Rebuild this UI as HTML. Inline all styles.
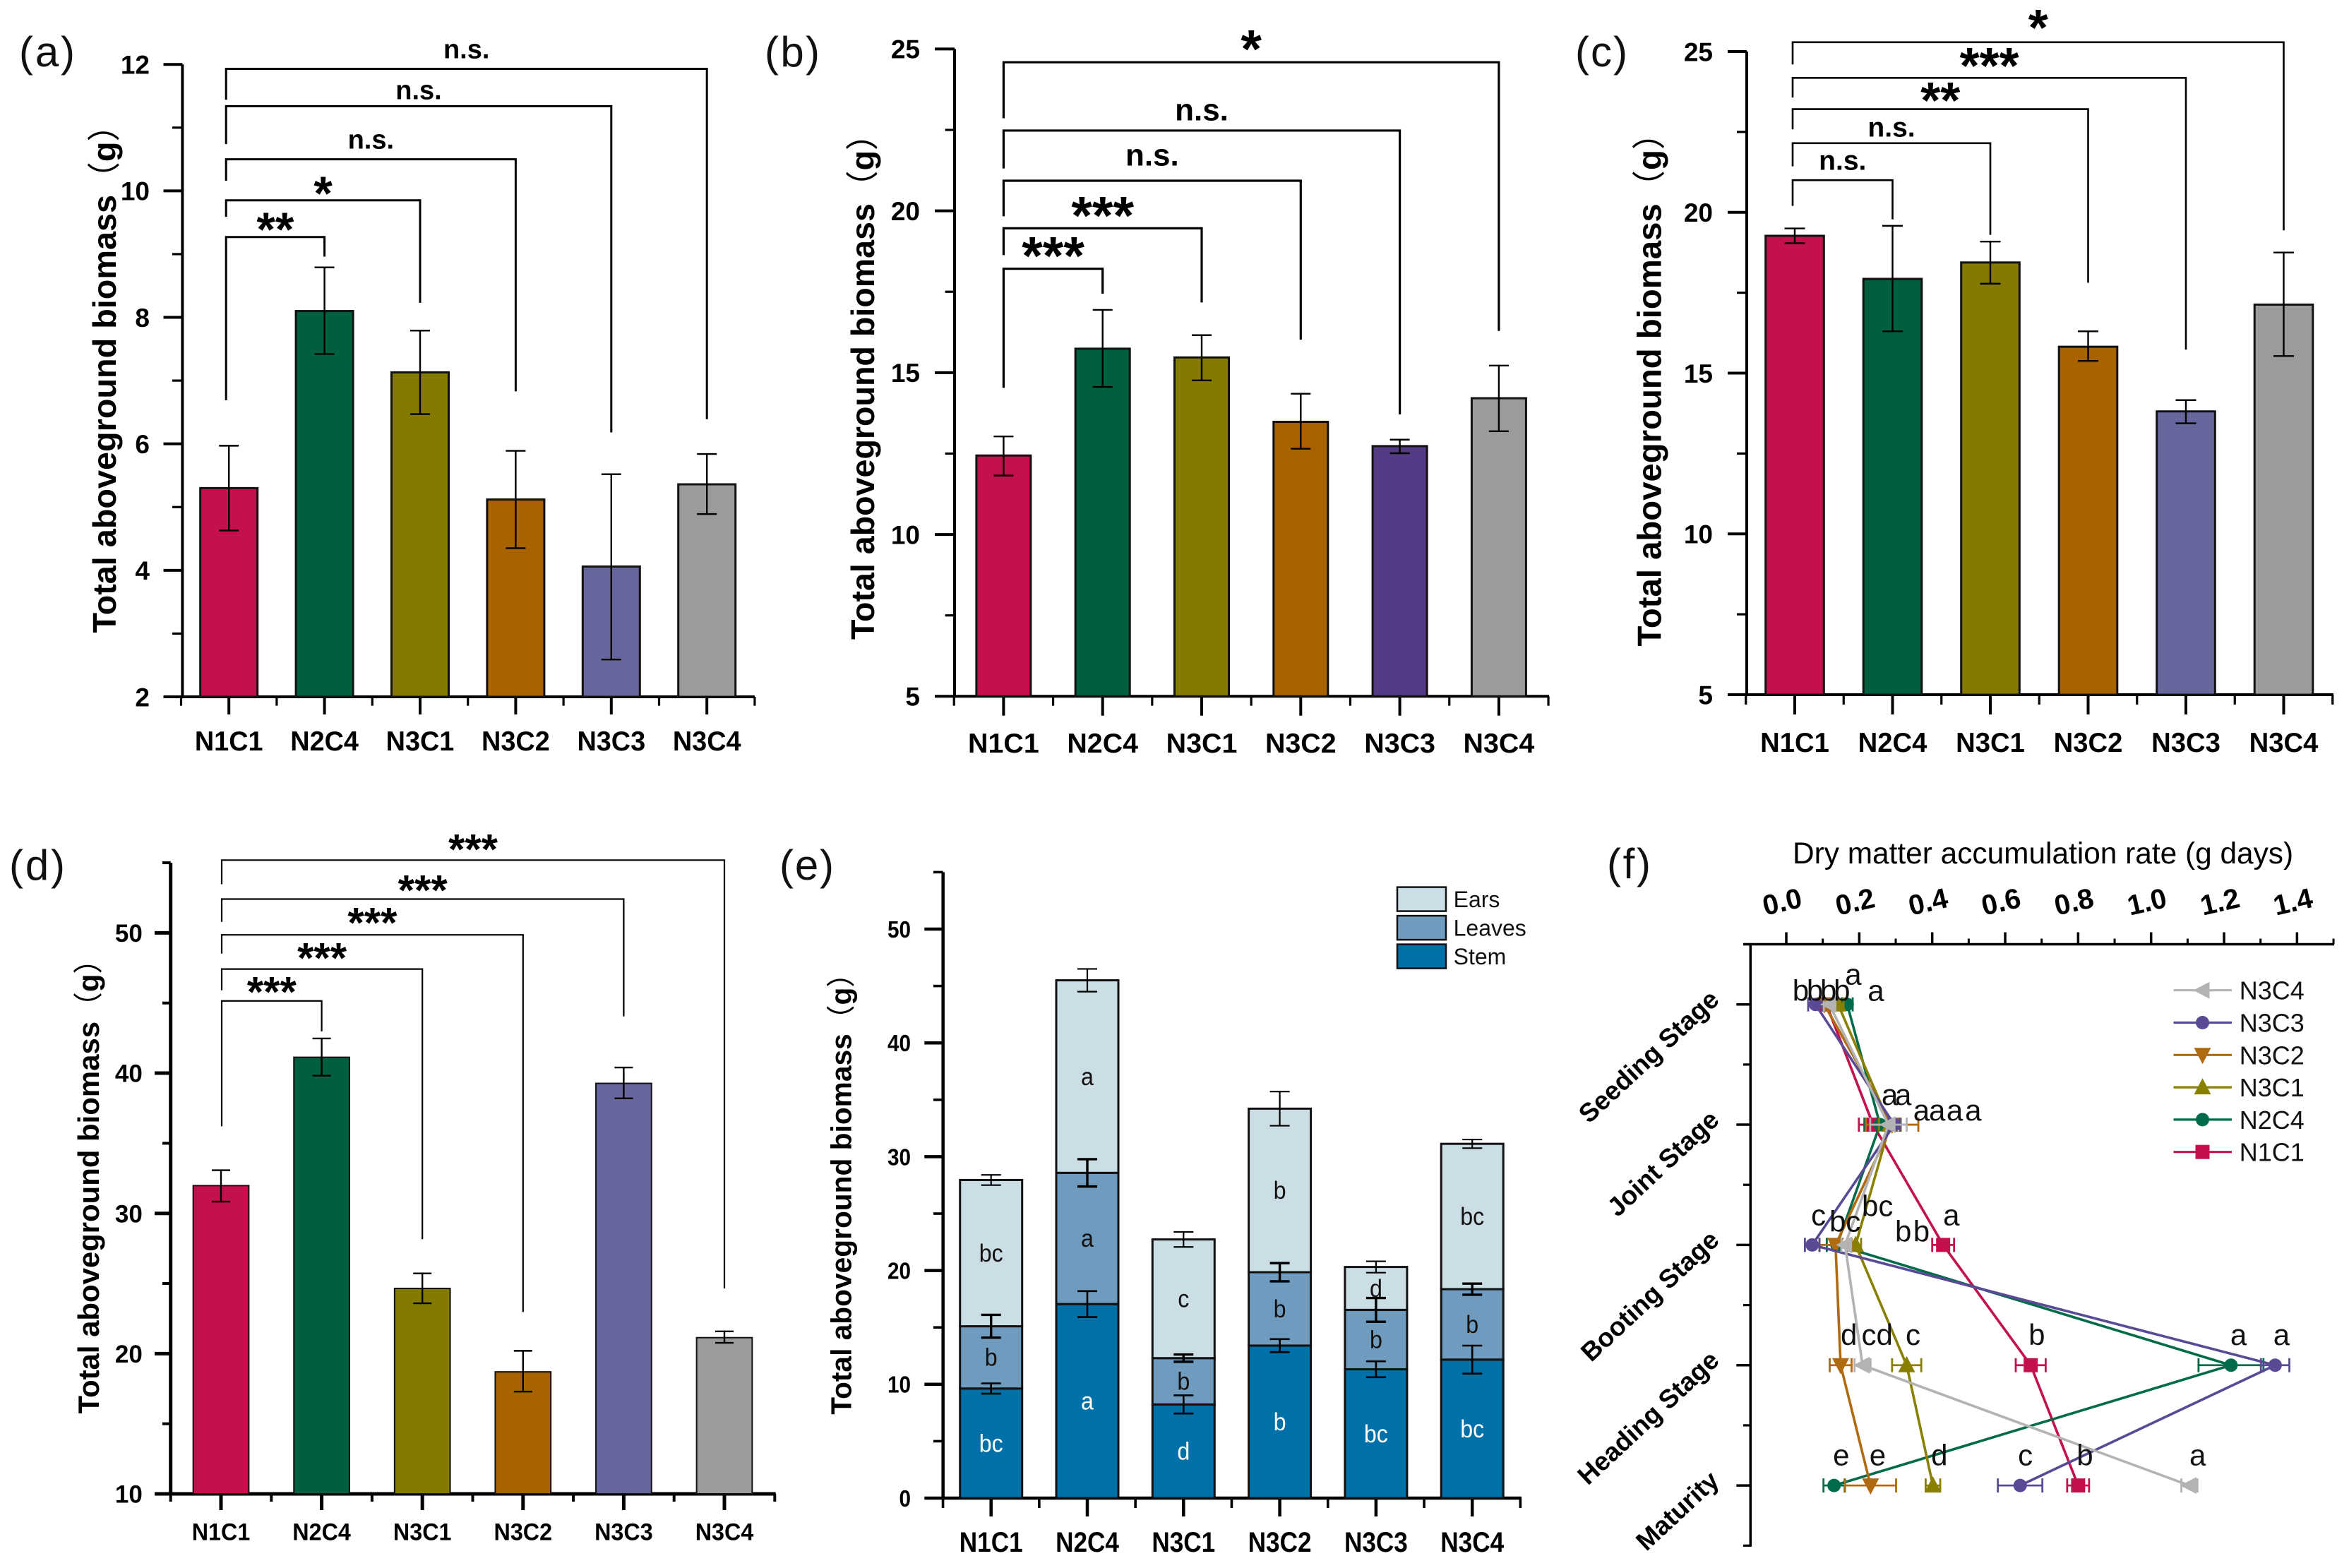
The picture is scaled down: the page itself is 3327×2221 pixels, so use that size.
<!DOCTYPE html>
<html lang="en">
<head>
<meta charset="utf-8">
<title>Total aboveground biomass and dry matter accumulation rate</title>
<style>
html,body{margin:0;padding:0;background:#fff;width:3327px;height:2221px;overflow:hidden}
svg{display:block;font-family:"Liberation Sans","Noto Sans CJK SC",sans-serif}
</style>
</head>
<body>
<svg id="fig" xmlns="http://www.w3.org/2000/svg" width="3327" height="2221" viewBox="0 0 3327 2221"></svg>
<script>
/* ---------- shared ---------- */
const categories = ['N1C1','N2C4','N3C1','N3C2','N3C3','N3C4'];

/* ---------- panel (a) ---------- */
const aValues = [5.30,8.10,7.13,5.12,4.06,5.36];
const aErrHigh = [5.97,8.79,7.79,5.89,5.52,5.84];
const aErrLow = [4.63,7.42,6.47,4.35,2.59,4.89];
const aTicks = [2,4,6,8,10,12];
const aMinorTicks = [3,5,7,9,11];
const aSigTop = [9.27,9.85,10.50,11.34,11.93];
const aSigLeftEnd = [6.69,9.59,10.16,10.74,11.44];
const aSigRightEnd = [8.96,8.23,6.83,6.18,6.39];
const aSigLabelLevel = [9.49,10.06,10.78,11.56,12.21];
const aSigText = ['**','*','n.s.','n.s.','n.s.'];

/* ---------- panel (b) ---------- */
const bValues = [12.44,15.74,15.47,13.48,12.73,14.21];
const bErrHigh = [13.03,16.94,16.16,14.35,12.93,15.22];
const bErrLow = [11.82,14.56,14.76,12.65,12.51,13.19];
const bTicks = [5,10,15,20,25];
const bMinorTicks = [7.5,12.5,17.5,22.5];
const bSigTop = [18.21,19.46,20.93,22.48,24.59];
const bSigLeftEnd = [14.53,18.63,19.83,21.31,22.86];
const bSigRightEnd = [17.44,17.17,16.02,13.71,16.29];
const bSigLabelLevel = [18.82,20.06,21.65,23.04,25.21];
const bSigText = ['***','***','n.s.','n.s.','*'];

/* ---------- panel (c) ---------- */
const cValues = [19.27,17.93,18.44,15.82,13.81,17.13];
const cErrHigh = [19.50,19.58,19.09,16.30,14.16,18.75];
const cErrLow = [19.04,16.30,17.78,15.38,13.44,15.53];
const cTicks = [5,10,15,20,25];
const cMinorTicks = [7.5,12.5,17.5,22.5];
const cSigTop = [21.0,22.15,23.21,24.18,25.29];
const cSigLeftEnd = [20.2,21.43,22.58,23.57,24.6];
const cSigRightEnd = [19.78,19.3,17.81,15.73,19.44];
const cSigLabelLevel = [21.54,22.58,23.68,24.75,25.94];
const cSigText = ['n.s.','n.s.','**','***','*'];

/* ---------- panel (d) ---------- */
const dValues = [31.98,41.13,24.65,18.70,39.27,21.14];
const dErrHigh = [33.08,42.47,25.72,20.20,40.40,21.59];
const dErrLow = [30.84,39.82,23.59,17.29,38.20,20.77];
const dTicks = [10,20,30,40,50];
const dMinorTicks = [15,25,35,45,55];
const dSigTop = [45.15,47.42,49.86,52.41,55.19];
const dSigLeftEnd = [36.21,45.91,48.52,50.79,53.47];
const dSigRightEnd = [42.98,28.16,22.97,44.05,24.65];
const dSigLabelLevel = [46.18,48.59,51.1,53.44,56.36];
const dSigText = ['***','***','***','***','***'];

/* ---------- panel (e) ---------- */
const eStem = [9.63,17.05,8.23,13.40,11.32,12.17];
const eLeaves = [5.47,11.53,4.07,6.45,5.22,6.19];
const eEars = [12.85,16.92,10.43,14.37,3.77,12.77];
const eStemErr = [0.45,1.14,0.80,0.57,0.70,1.23];
const eLeavesErr = [1.00,1.20,0.32,0.80,1.04,0.49];
const eEarsErr = [0.45,1.00,0.66,1.50,0.50,0.38];
const eStemLetters = ['bc','a','d','b','bc','bc'];
const eLeavesLetters = ['b','a','b','b','b','b'];
const eEarsLetters = ['bc','a','c','b','d','bc'];
const eTicks = [0,10,20,30,40,50];
const eMinorTicks = [5,15,25,35,45,55];
const eLegend = ['Ears','Leaves','Stem'];

/* ---------- panel (f) ---------- */
const fStages = ['Seeding Stage','Joint Stage','Booting Stage','Heading Stage','Maturity'];
const fRateTicks = [0,0.2,0.4,0.6,0.8,1.0,1.2,1.4];
const fRateMinor = [0.1,0.3,0.5,0.7,0.9,1.1,1.3,1.5];
const fN1C1 = [0.11,0.238,0.43,0.67,0.80];
const fN2C4 = [0.167,0.257,0.139,1.219,0.131];
const fN3C1 = [0.142,0.284,0.19,0.33,0.402];
const fN3C2 = [0.104,0.29,0.135,0.149,0.231];
const fN3C3 = [0.08,0.296,0.071,1.34,0.641];
const fN3C4 = [0.118,0.28,0.161,0.209,1.105];
const fN1C1Err = [0.015,0.039,0.03,0.041,0.03];
const fN2C4Err = [0.015,0.043,0.028,0.089,0.029];
const fN3C1Err = [0.015,0.03,0.015,0.04,0.02];
const fN3C2Err = [0.015,0.072,0.044,0.03,0.07];
const fN3C3Err = [0.02,0.015,0.02,0.039,0.061];
const fN3C4Err = [0.015,0.05,0.01,0.022,0.022];
const fLetterText = [
  ['b','b','b','b','a','a'],
  ['a','a','a','a','a','a'],
  ['c','b','c','bc','b','b','a'],
  ['d','cd','c','b','a','a'],
  ['e','e','d','c','b','a']
];
const fLetterRate = [
  [0.017,0.056,0.093,0.130,0.161,0.223],
  [0.261,0.298,0.348,0.391,0.439,0.490],
  [0.068,0.118,0.163,0.207,0.298,0.348,0.43],
  [0.149,0.206,0.327,0.664,1.217,1.335],
  [0.128,0.228,0.397,0.635,0.796,1.105]
];
const fLetterLift = [
  [0.03,0.03,0.03,0.03,0.165,0.03],
  [0.165,0.165,0.035,0.035,0.035,0.035],
  [0.165,0.11,0.11,0.24,0.03,0.03,0.165],
  [0.17,0.17,0.17,0.17,0.17,0.17],
  [0.167,0.167,0.167,0.167,0.167,0.167]
];

/* ---------- helpers ---------- */
const NS = 'http://www.w3.org/2000/svg';
const root = document.getElementById('fig');
function mk(tag, attrs, parent) {
  const el = document.createElementNS(NS, tag);
  for (const k in attrs) el.setAttribute(k, attrs[k]);
  (parent || root).appendChild(el);
  return el;
}
function line(p, x1, y1, x2, y2, w, color) {
  return mk('line', {x1:x1, y1:y1, x2:x2, y2:y2, stroke:color || '#000', 'stroke-width':w}, p);
}
function txt(p, x, y, str, size, o) {
  o = o || {};
  const el = mk('text', {
    transform:'translate(' + x + ',' + y + ') rotate(' + (o.rot || 0) + ') scale(' + (o.sx || 1) + ',1)',
    x:0, y:o.dy || 0, 'font-size':size,
    'font-weight':o.bold ? 'bold' : 'normal',
    'text-anchor':o.anchor || 'start',
    fill:o.fill || '#000'
  }, p);
  el.textContent = str;
  return el;
}
const barColors = ['#C4104C','#005F40','#857A00','#A86200','#66669C','#9B9B9B'];

function drawPanelLabel(str, x, y, len) {
  const t = mk('text', {x:x, y:y, 'font-size':60, textLength:len, lengthAdjust:'spacing', fill:'#111'});
  t.textContent = str;
  
  
}

function drawYTitle(p, x, y, size) {
  const t = mk('text', {transform:'translate(' + x + ',' + y + ') rotate(-90)', 'font-size':size, 'font-weight':'bold', fill:'#000'}, p);
  const a = mk('tspan', {}, t);
  a.textContent = 'Total aboveground biomass';
  const b = mk('tspan', {'font-weight':'normal', 'font-family':'"Noto Sans CJK SC",sans-serif'}, t);
  b.textContent = '（';
  const c = mk('tspan', {}, t);
  c.textContent = 'g';
  const d = mk('tspan', {'font-weight':'normal', 'font-family':'"Noto Sans CJK SC",sans-serif'}, t);
  d.textContent = '）';
  
  
}

function makeAxes(p, c) {
  c.y = function (v) { return c.y0 - (v - c.min) / (c.top - c.min) * (c.y0 - c.yTop); };
  c.x = function (i) { return c.x0 + i * c.step; };
  const w = c.axisW;
  const ya = line(p, c.axX, c.y(c.axisMax), c.axX, c.y0 + w / 2, w);
  
  
  const xa = line(p, c.majorLeft, c.y0, c.right, c.y0, w);
  
  
  c.ticks.forEach(function (v) {
    if (v !== c.min) {
      const t = line(p, c.majorLeft, c.y(v), c.axX, c.y(v), w);
      
      
    }
    const l = txt(p, c.labelRight, c.y(v) + c.tickSize * 0.36, String(v), c.tickSize, {bold:true, anchor:'end', sx:c.tickSx});
    
    
  });
  c.minor.forEach(function (v) {
    const t = line(p, c.minorLeft, c.y(v), c.axX, c.y(v), w * 0.8);
    
    
  });
  categories.forEach(function (cat, i) {
    const t = line(p, c.x(i), c.y0, c.x(i), c.majorDown, w);
    
    
    const l = txt(p, c.x(i), c.xBase, cat, c.catSize, {bold:true, anchor:'middle', sx:c.catSx});
    
    
  });
  for (let i = 0; i <= categories.length; i++) {
    const xm = c.x(i - 0.5);
    const t = line(p, xm, c.y0, xm, c.minorDown, w * 0.8);
    
    
  }
}

function drawErr(p, c, i, hi, lo, w) {
  const cx = c.x(i), hw = c.capHalf;
  const a = line(p, cx, c.y(hi), cx, c.y(lo), w);
  
  
  const b = line(p, cx - hw, c.y(hi), cx + hw, c.y(hi), w);
  
  
  const d = line(p, cx - hw, c.y(lo), cx + hw, c.y(lo), w);
  
  
}

function drawBars(p, c, values, high, low, colors) {
  values.forEach(function (v, i) {
    const r = mk('rect', {x:c.x(i) - c.barW / 2, y:c.y(v), width:c.barW, height:c.y0 - c.y(v), fill:colors[i], stroke:'#111', 'stroke-width':c.barStroke}, p);
    
    
    drawErr(p, c, i, high[i], low[i], 2.4);
  });
}

function drawBrackets(p, c, tops, lefts, rights, levels, texts) {
  tops.forEach(function (v, i) {
    const xl = c.x(0) + c.sigDx, xr = c.x(i + 1);
    const b = mk('polyline', {points:[xl, c.y(lefts[i]), xl, c.y(v), xr, c.y(v), xr, c.y(rights[i])].join(' '), fill:'none', stroke:'#000', 'stroke-width':c.sigW}, p);
    
    
    const isNs = texts[i] === 'n.s.';
    const size = isNs ? c.nsSize : c.starSize;
    const base = c.y(levels[i]) + (isNs ? 0.26 * size : 0.47 * size);
    const t = txt(p, (xl + xr) / 2, base, texts[i], size, {bold:true, anchor:'middle'});
    
    
  });
}

/* ---------- bar panels ---------- */
const gA = mk('g', {});


const cfgA = {min:2, top:12, axisMax:12, y0:987, yTop:91.2, axX:258.4, x0:324.2, step:135.4, right:1069, majorLeft:231.5, minorLeft:244, majorDown:1012, minorDown:999.6, xBase:1063, labelRight:212, tickSize:37, tickSx:1, catSize:39, catSx:0.97, barW:81, barStroke:3, axisW:4, capHalf:14, sigW:3, sigDx:-4, nsSize:38, starSize:68, ticks:aTicks, minor:aMinorTicks};
makeAxes(gA, cfgA);
drawBars(gA, cfgA, aValues, aErrHigh, aErrLow, barColors);
drawBrackets(gA, cfgA, aSigTop, aSigLeftEnd, aSigRightEnd, aSigLabelLevel, aSigText);
drawYTitle(gA, 164, 896.5, 46.8);

const gB = mk('g', {});


const cfgB = {min:5, top:25, axisMax:25, y0:986.3, yTop:69.4, axX:1352, x0:1421.4, step:140.3, right:2194, majorLeft:1324, minorLeft:1338.6, majorDown:1013.7, minorDown:999.6, xBase:1066, labelRight:1303, tickSize:37, tickSx:1, catSize:39, catSx:1.01, barW:77, barStroke:3, axisW:4, capHalf:14, sigW:3.2, sigDx:0, nsSize:44, starSize:76, ticks:bTicks, minor:bMinorTicks};
makeAxes(gB, cfgB);
drawBars(gB, cfgB, bValues, bErrHigh, bErrLow, ['#C4104C','#005F40','#857A00','#A86200','#553A85','#9B9B9B']);
drawBrackets(gB, cfgB, bSigTop, bSigLeftEnd, bSigRightEnd, bSigLabelLevel, bSigText);
drawYTitle(gB, 1238, 906, 46.6);

const gC = mk('g', {});


const cfgC = {min:5, top:25, axisMax:25, y0:984, yTop:73, axX:2474, x0:2542, step:138.5, right:3305, majorLeft:2447, minorLeft:2460, majorDown:1012, minorDown:998, xBase:1065, labelRight:2426, tickSize:37, tickSx:1, catSize:39, catSx:0.98, barW:82.6, barStroke:3, axisW:4, capHalf:14.5, sigW:2.6, sigDx:-3, nsSize:39, starSize:72, ticks:cTicks, minor:cMinorTicks};
makeAxes(gC, cfgC);
drawBars(gC, cfgC, cValues, cErrHigh, cErrLow, barColors);
drawBrackets(gC, cfgC, cSigTop, cSigLeftEnd, cSigRightEnd, cSigLabelLevel, cSigText);
drawYTitle(gC, 2352.7, 915.5, 47.3);

const gD = mk('g', {});


const cfgD = {min:10, top:50, axisMax:55, y0:2116, yTop:1321.4, axX:241.7, x0:313, step:142.6, right:1098.7, majorLeft:219, minorLeft:230, majorDown:2139, minorDown:2127, xBase:2181.7, labelRight:201.8, tickSize:35, tickSx:1, catSize:34, catSx:0.95, barW:78.7, barStroke:2, axisW:5, capHalf:13, sigW:2.2, sigDx:1, nsSize:36, starSize:60, ticks:dTicks, minor:dMinorTicks};
makeAxes(gD, cfgD);
drawBars(gD, cfgD, dValues, dErrHigh, dErrLow, barColors);
drawBrackets(gD, cfgD, dSigTop, dSigLeftEnd, dSigRightEnd, dSigLabelLevel, dSigText);
drawYTitle(gD, 140, 2002.5, 41.9);

/* ---------- panel (e) ---------- */
const gE = mk('g', {});


const cfgE = {min:0, top:50, axisMax:55, y0:2122, yTop:1316, axX:1335.7, x0:1403.7, step:136.3, right:2155, majorLeft:1309.3, minorLeft:1322, majorDown:2148, minorDown:2136, xBase:2198, labelRight:1290, tickSize:33, tickSx:0.9, catSize:39.5, catSx:0.89, barW:88, barStroke:3, axisW:4.5, capHalf:14, sigW:2, sigDx:0};
cfgE.ticks = eTicks;
cfgE.minor = eMinorTicks;
makeAxes(gE, cfgE);
const eColors = ['#0070A8','#6E9BBE','#CBDDE5'];
categories.forEach(function (cat, i) {
  const segs = [eStem[i], eLeaves[i], eEars[i]];
  const errs = [eStemErr[i], eLeavesErr[i], eEarsErr[i]];
  const letters = [eStemLetters[i], eLeavesLetters[i], eEarsLetters[i]];
  const segName = ['stem', 'leaves', 'ears'];
  const errW = [2.6, 3.4, 2.2];
  let base = 0;
  segs.forEach(function (v, s) {
    const r = mk('rect', {x:cfgE.x(i) - cfgE.barW / 2, y:cfgE.y(base + v), width:cfgE.barW, height:cfgE.y(base) - cfgE.y(base + v), fill:eColors[s], stroke:'#111', 'stroke-width':3}, gE);
    
    
    base += v;
  });
  base = 0;
  segs.forEach(function (v, s) {
    const t = txt(gE, cfgE.x(i), cfgE.y(base + v / 2) + 12, letters[s], 35, {anchor:'middle', fill:s === 0 ? '#fff' : '#111', sx:0.92});
    
    
    base += v;
    drawErr(gE, cfgE, i, base + errs[s], base - errs[s], errW[s]);
  });
});
drawYTitle(gE, 1205.6, 2003.8, 40.7);
eLegend.forEach(function (name, i) {
  const sw = mk('rect', {x:1979, y:1256.6 + i * 40.5, width:69, height:34, fill:eColors[2 - i], stroke:'#111', 'stroke-width':2.5}, gE);
  
  
  const t = txt(gE, 2058.6, 1285 + i * 40.5, name, 32, {fill:'#111'});
  
  
});

/* ---------- panel (f) ---------- */
const gF = mk('g', {});


function fx(v) { return 2530 + v * 516.7; }
function fy(s) { return 1422.7 + s * 170.35; }
const fLeftAxis = line(gF, 2479.3, fy(-0.5), 2479.3, fy(4.5) + 1.5, 3.5);


const fTopAxis = line(gF, 2469, fy(-0.5), 3306, fy(-0.5), 3.5);


fRateTicks.forEach(function (v) {
  const t = line(gF, fx(v), fy(-0.5), fx(v), fy(-0.5) - 17, 3.5);
  
  
  const l = txt(gF, fx(v) - 6, 1277, v.toFixed(1), 40, {bold:true, anchor:'middle', rot:-13, dy:14});
  
  
});
fRateMinor.forEach(function (v) {
  const t = line(gF, fx(v), fy(-0.5), fx(v), fy(-0.5) - 8, 3);
  
  
});
[-0.5, 0.5, 1.5, 2.5, 3.5, 4.5].forEach(function (s) {
  const t = line(gF, 2469, fy(s), 2479.3, fy(s), 3.2);
  
  
});
fStages.forEach(function (name, s) {
  const t = line(gF, 2459.3, fy(s), 2479.3, fy(s), 3.5);
  
  
  const l = txt(gF, 2437, fy(s) - 4, name, 37, {bold:true, anchor:'end', rot:-43});
  
  
});
const fTitle = txt(gF, 2539, 1223, 'Dry matter accumulation rate (g days)', 42.4, {});



function fMarker(p, kind, x, y, color) {
  const r = 11;
  let el;
  if (kind === 'circle') el = mk('circle', {cx:x, cy:y, r:9.5, fill:color}, p);
  else if (kind === 'square') el = mk('rect', {x:x - 10, y:y - 10, width:20, height:20, fill:color}, p);
  else if (kind === 'up') el = mk('polygon', {points:[x, y - r - 2, x + r + 1, y + r - 1, x - r - 1, y + r - 1].join(' '), fill:color}, p);
  else if (kind === 'down') el = mk('polygon', {points:[x, y + r + 2, x + r + 1, y - r + 1, x - r - 1, y - r + 1].join(' '), fill:color}, p);
  else el = mk('polygon', {points:[x - r - 2, y, x + r - 1, y - r - 1, x + r - 1, y + r + 1].join(' '), fill:color}, p);
  
  
}
const fSeries = [
  {name:'N1C1', vals:fN1C1, errs:fN1C1Err, color:'#C4104C', kind:'square'},
  {name:'N2C4', vals:fN2C4, errs:fN2C4Err, color:'#006B4A', kind:'circle'},
  {name:'N3C1', vals:fN3C1, errs:fN3C1Err, color:'#8A8000', kind:'up'},
  {name:'N3C2', vals:fN3C2, errs:fN3C2Err, color:'#B06A10', kind:'down'},
  {name:'N3C3', vals:fN3C3, errs:fN3C3Err, color:'#5A4A96', kind:'circle'},
  {name:'N3C4', vals:fN3C4, errs:fN3C4Err, color:'#B3B3B3', kind:'left'}
];
fSeries.forEach(function (sr) {
  const pl = mk('polyline', {points:sr.vals.map(function (v, s) { return fx(v) + ',' + fy(s); }).join(' '), fill:'none', stroke:sr.color, 'stroke-width':3.6}, gF);
  
  
  sr.vals.forEach(function (v, s) {
    const e = sr.errs[s];
    const a = line(gF, fx(v - e), fy(s), fx(v + e), fy(s), 2.8, sr.color);
    
    
    const b = line(gF, fx(v - e), fy(s) - 10, fx(v - e), fy(s) + 10, 2.8, sr.color);
    
    
    const c = line(gF, fx(v + e), fy(s) - 10, fx(v + e), fy(s) + 10, 2.8, sr.color);
    
    
    fMarker(gF, sr.kind, fx(v), fy(s), sr.color);
  });
});
fLetterText.forEach(function (row, s) {
  row.forEach(function (str, j) {
    const t = txt(gF, fx(fLetterRate[s][j]), fy(s) - fLetterLift[s][j] * 170.35, str, 42, {fill:'#111'});
    
    
  });
});
fSeries.slice().reverse().forEach(function (sr, i) {
  const ly = 1402.7 + i * 45.8;
  const l = line(gF, 3078.5, ly, 3161, ly, 3.2, sr.color);
  
  
  fMarker(gF, sr.kind, 3119.5, ly, sr.color);
  const t = txt(gF, 3171.7, ly + 13, sr.name, 36, {fill:'#111'});
  
  
});

/* ---------- panel letters ---------- */
drawPanelLabel('(a)', 27, 94, 79);
drawPanelLabel('(b)', 1083, 94, 78);
drawPanelLabel('(c)', 2231, 94, 74);
drawPanelLabel('(d)', 13, 1246, 79);
drawPanelLabel('(e)', 1104, 1246, 77);
drawPanelLabel('(f)', 2276, 1244, 62);
</script>
</body>
</html>
